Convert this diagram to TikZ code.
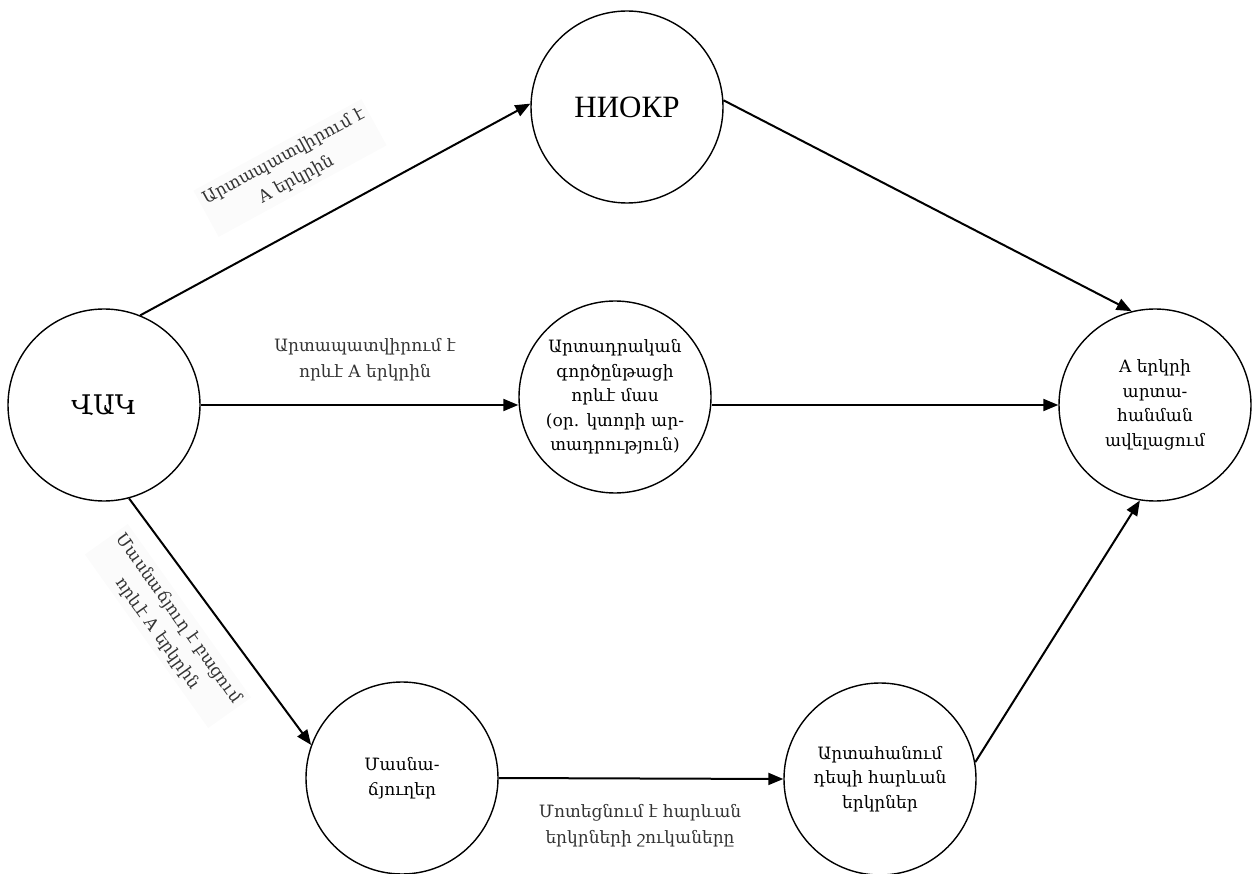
\documentclass[tikz,border=0pt]{standalone}
\usepackage{fontspec}
\setmainfont{DejaVu Serif}
\newfontfamily\cyr{Liberation Serif}
\usetikzlibrary{arrows.meta}
\begin{document}
\begin{tikzpicture}[x=1pt,y=-1pt,
  circ/.style={circle,draw,line width=1.4pt,minimum size=192pt,inner sep=0pt,align=center,font=\fontsize{17}{24.5}\selectfont},
  conn/.style={line width=2pt,-{Triangle[length=15pt,width=12pt]}},
  lbl/.style={align=center,font=\fontsize{17}{26}\selectfont,text=black!80},
  rlbl/.style={lbl,fill=black!1.5,inner sep=5pt}]
\useasboundingbox (0,0) rectangle (1253,874);
\node[circ,font=\fontsize{27}{30}\selectfont] (vak) at (104,405) {ՎԱԿ};
\node[circ,font=\cyr\fontsize{31}{34}\selectfont] (niokr) at (627,107) {НИОКР};
\node[circ] (mid) at (615,397) {Արտադրական\\գործընթացի\\որևէ մաս\\(օր. կտորի ար-\\տադրություն)};
\node[circ] (res) at (1155,405) {A երկրի\\արտա-\\հանման\\ավելացում};
\node[circ] (masn) at (402,778) {Մասնա-\\ճյուղեր};
\node[circ] (exp) at (880,779) {Արտահանում\\դեպի հարևան\\երկրներ};

\draw[conn] (vak.68) -- (niokr.178);
\draw[conn] (niokr.4) -- (res.104);
\draw[conn] (vak.east) -- (vak.east -| mid.west);
\draw[conn] (mid.east |- res.west) -- (res.west);
\draw[conn] (vak.285) -- (masn.160);
\draw[conn] (masn.east) -- (exp.west);
\draw[conn] (exp.10) -- (res.261);

\node[rlbl,rotate=28.6] (l1) at (290,168) {Արտապատվիրում է\\A երկրին};
\node[lbl] (l2) at (365,360) {Արտապատվիրում է\\որևէ A երկրին};
\node[rlbl,rotate=-54.6] (l3) at (168,626) {Մասնաճյուղ է բացում\\որևէ A երկրին};
\node[lbl] (l4) at (640,826) {Մոտեցնում է հարևան\\երկրների շուկաները};
\end{tikzpicture}
\end{document}
